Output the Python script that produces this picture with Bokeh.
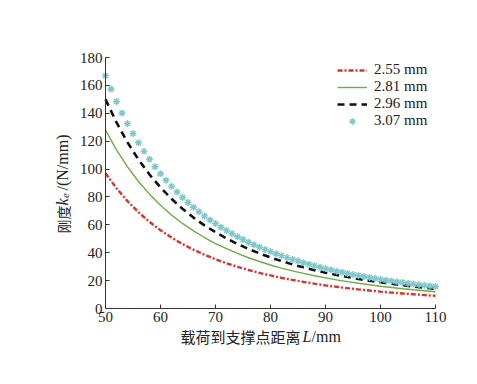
import math
from bokeh.plotting import figure
from bokeh.models import Label, Range1d, FixedTicker, Legend, LegendItem
from bokeh.embed import file_html
from bokeh.resources import INLINE

# ---- data ----
L_line = [50, 52, 54, 56, 58, 60, 62, 64, 66, 68, 70, 72, 74, 76, 78, 80,
          82, 84, 86, 88, 90, 92, 94, 96, 98, 100, 102, 104, 106, 108, 110]
k_255 = [97.0, 86.2, 77.0, 69.0, 62.1, 56.1, 50.9, 46.2, 42.2, 38.6, 35.3, 32.5,
         29.9, 27.6, 25.5, 23.7, 22.0, 20.5, 19.1, 17.8, 16.6, 15.6, 14.6, 13.7,
         12.9, 12.1, 11.4, 10.8, 10.2, 9.6, 9.1]
k_281 = [128.0, 113.8, 101.6, 91.1, 82.0, 74.1, 67.1, 61.0, 55.7, 50.9, 46.6, 42.9,
         39.5, 36.4, 33.7, 31.2, 29.0, 27.0, 25.2, 23.5, 22.0, 20.5, 19.3, 18.1,
         17.0, 16.0, 15.1, 14.2, 13.4, 12.7, 12.0]
k_296 = [150.0, 133.4, 119.1, 106.8, 96.1, 86.8, 78.7, 71.5, 65.2, 59.6, 54.7, 50.2,
         46.3, 42.7, 39.5, 36.6, 34.0, 31.6, 29.5, 27.5, 25.7, 24.1, 22.6, 21.2,
         19.9, 18.8, 17.7, 16.7, 15.8, 14.9, 14.1]
L_pts = list(range(50, 111))
k_307 = [167.0, 157.4, 148.5, 140.2, 132.6, 125.5, 118.9, 112.7, 107.0, 101.6,
         96.6, 92.0, 87.6, 83.5, 79.6, 76.0, 72.6, 69.4, 66.4, 63.5,
         60.9, 58.3, 55.9, 53.7, 51.5, 49.5, 47.5, 45.7, 44.0, 42.3,
         40.8, 39.3, 37.9, 36.5, 35.2, 34.0, 32.8, 31.7, 30.6, 29.6,
         28.6, 27.7, 26.8, 26.0, 25.1, 24.3, 23.6, 22.9, 22.2, 21.5,
         20.9, 20.3, 19.7, 19.1, 18.6, 18.0, 17.5, 17.1, 16.6, 16.1, 15.7]
series_names = ["2.55 mm", "2.81 mm", "2.96 mm", "3.07 mm"]
x_ticks = [50, 60, 70, 80, 90, 100, 110]
y_ticks = [0, 20, 40, 60, 80, 100, 120, 140, 160, 180]

SERIF = "Liberation Serif"
CJK = "Noto Sans CJK SC"
W, H = 470, 376
# plot box in canvas pixels: x 50->105, 110->435 ; y 0->308, 180->57
XPX = (435 - 105) / 60.0
YPX = (308 - 57) / 180.0

p = figure(width=W, height=H, output_backend="svg", toolbar_location=None,
           x_range=Range1d(50 - 105 / XPX, 110 + (W - 435) / XPX),
           y_range=Range1d(-(H - 308) / YPX, 180 + 57 / YPX),
           min_border=0)
p.outline_line_color = None
p.xgrid.visible = False
p.ygrid.visible = False
p.background_fill_color = "white"

p.xaxis.fixed_location = 0
p.yaxis.fixed_location = 50
p.xaxis.bounds = (50, 110)
p.yaxis.bounds = (0, 180)
for ax, ticks in ((p.xaxis[0], x_ticks), (p.yaxis[0], y_ticks)):
    ax.ticker = FixedTicker(ticks=ticks)
    ax.major_tick_in = 4
    ax.major_tick_out = 0
    ax.minor_tick_line_color = None
    ax.axis_line_color = "#333333"
    ax.major_tick_line_color = "#333333"
    ax.major_label_text_font = SERIF
    ax.major_label_text_font_size = "15px"
    ax.major_label_text_color = "#222222"
    ax.major_label_standoff = 3

r1 = p.line(L_line, k_255, line_color="#e0302a", line_width=2.4, line_dash="5 2 2 2")
r2 = p.line(L_line, k_281, line_color="#6aad45", line_width=1.4)
r3 = p.line(L_line, k_296, line_color="#111111", line_width=2.6, line_dash="7 5")
r4 = p.scatter(L_pts, k_307, marker="asterisk", size=7, line_color="#7cc8ca",
               line_width=1.4)

legend = Legend(items=[LegendItem(label=n, renderers=[r]) for n, r in
                       zip(series_names, [r1, r2, r3, r4])],
                location=(337, H - 129), padding=0, spacing=0, margin=0,
                glyph_width=30, glyph_height=16, label_height=16,
                label_standoff=7, label_text_font=SERIF,
                label_text_font_size="15px", label_text_color="#222222",
                background_fill_alpha=0, border_line_color=None)
p.add_layout(legend)

# canvas pixel -> data coordinates
def dx(px):
    return 50 + (px - 105) / XPX

def dy(py):
    return (308 - py) / YPX

common = dict(text_baseline="middle", text_color="#222222")
# x-axis title
p.add_layout(Label(x=dx(180), y=dy(336), text="载荷到支撑点距离", text_font=CJK,
                   text_font_size="15px", **common))
p.add_layout(Label(x=dx(302), y=dy(336), text="L", text_font=SERIF,
                   text_font_style="italic", text_font_size="16px", **common))
p.add_layout(Label(x=dx(311), y=dy(336), text="/mm", text_font=SERIF,
                   text_font_size="16px", **common))

# y-axis title (rotated)
a = math.pi / 2
p.add_layout(Label(x=dx(62), y=dy(233), text="刚度", text_font=CJK, angle=a,
                   text_font_size="14px", **common))
p.add_layout(Label(x=dx(62), y=dy(205), text="k", text_font=SERIF, angle=a,
                   text_font_style="italic", text_font_size="16px", **common))
p.add_layout(Label(x=dx(65), y=dy(197.5), text="e", text_font=SERIF, angle=a,
                   text_font_style="italic", text_font_size="11px", **common))
p.add_layout(Label(x=dx(62), y=dy(190), text="/(N/mm)", text_font=SERIF, angle=a,
                   text_font_size="16px", **common))

open("out.html", "w").write(file_html(p, INLINE))
